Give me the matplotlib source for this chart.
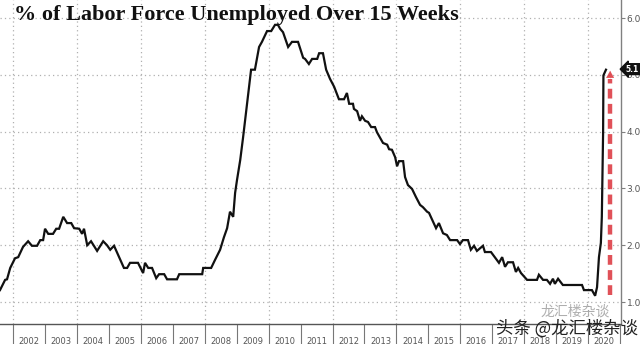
import matplotlib
matplotlib.use("Agg")
import matplotlib.pyplot as plt
from matplotlib.ticker import FixedLocator, NullFormatter, FixedFormatter

# --- data (decimal year, % of labor force unemployed > 15 weeks) ---
dates = [2001.59, 2001.75, 2001.81, 2001.91, 2002.06, 2002.16, 2002.31, 2002.47, 2002.59, 2002.75,
         2002.85, 2002.94, 2003.00, 2003.10, 2003.25, 2003.35, 2003.44, 2003.57, 2003.69, 2003.82,
         2003.91, 2004.07, 2004.16, 2004.22, 2004.32, 2004.44, 2004.63, 2004.82, 2004.94, 2005.04,
         2005.16, 2005.32, 2005.47, 2005.57, 2005.66, 2005.91, 2006.07, 2006.13, 2006.23, 2006.35,
         2006.48, 2006.57, 2006.73, 2006.82, 2007.13, 2007.20, 2007.92, 2007.95, 2008.20, 2008.32,
         2008.48, 2008.60, 2008.70, 2008.79, 2008.89, 2008.95, 2009.01, 2009.11, 2009.20, 2009.45,
         2009.57, 2009.70, 2009.79, 2009.95, 2010.08, 2010.20, 2010.29, 2010.36, 2010.45, 2010.61,
         2010.73, 2010.92, 2011.08, 2011.14, 2011.26, 2011.36, 2011.52, 2011.58, 2011.70, 2011.80,
         2011.92, 2012.05, 2012.20, 2012.36, 2012.45, 2012.52, 2012.64, 2012.67, 2012.77, 2012.86,
         2012.92, 2013.02, 2013.11, 2013.21, 2013.33, 2013.39, 2013.58, 2013.71, 2013.77, 2013.86,
         2013.96, 2014.02, 2014.08, 2014.21, 2014.27, 2014.36, 2014.49, 2014.61, 2014.74, 2014.83,
         2014.96, 2015.02, 2015.24, 2015.33, 2015.46, 2015.58, 2015.68, 2015.90, 2015.99, 2016.08,
         2016.24, 2016.33, 2016.43, 2016.52, 2016.71, 2016.77, 2016.96, 2017.09, 2017.21, 2017.31,
         2017.40, 2017.49, 2017.65, 2017.74, 2017.81, 2017.90, 2018.09, 2018.40, 2018.46, 2018.59,
         2018.71, 2018.81, 2018.90, 2018.96, 2019.06, 2019.21, 2019.81, 2019.87, 2020.12, 2020.22,
         2020.28, 2020.34, 2020.40, 2020.43, 2020.47, 2020.48, 2020.56]
values = [1.21, 1.39, 1.40, 1.60, 1.77, 1.79, 1.97, 2.07, 1.99, 1.99,
          2.09, 2.09, 2.29, 2.20, 2.20, 2.29, 2.29, 2.50, 2.39, 2.39,
          2.30, 2.29, 2.20, 2.29, 2.00, 2.07, 1.90, 2.07, 2.00, 1.92,
          1.99, 1.79, 1.60, 1.60, 1.69, 1.69, 1.51, 1.69, 1.60, 1.60,
          1.42, 1.49, 1.49, 1.40, 1.40, 1.49, 1.49, 1.60, 1.60, 1.74,
          1.92, 2.14, 2.30, 2.59, 2.50, 2.92, 3.15, 3.50, 3.90, 5.09,
          5.09, 5.49, 5.58, 5.77, 5.77, 5.88, 5.88, 5.81, 5.75, 5.49,
          5.58, 5.58, 5.30, 5.28, 5.19, 5.28, 5.28, 5.38, 5.38, 5.09,
          4.93, 4.79, 4.57, 4.57, 4.68, 4.49, 4.49, 4.40, 4.36, 4.19,
          4.27, 4.19, 4.17, 4.08, 4.08, 3.99, 3.80, 3.77, 3.69, 3.68,
          3.55, 3.39, 3.48, 3.48, 3.20, 3.06, 2.99, 2.85, 2.71, 2.67,
          2.59, 2.57, 2.30, 2.39, 2.21, 2.18, 2.09, 2.09, 2.02, 2.09,
          2.09, 1.92, 1.99, 1.90, 1.99, 1.88, 1.88, 1.78, 1.69, 1.79,
          1.62, 1.70, 1.70, 1.53, 1.60, 1.51, 1.39, 1.39, 1.48, 1.39,
          1.39, 1.32, 1.41, 1.32, 1.41, 1.30, 1.30, 1.21, 1.21, 1.11,
          1.26, 1.79, 2.04, 2.50, 3.98, 4.99, 5.09]

years = list(range(2002, 2021))
year_labels = [str(y) for y in years]
y_ticks = [1.0, 2.0, 3.0, 4.0, 5.0, 6.0]
y_tick_labels = ["1.0", "2.0", "3.0", "4.0", "5.0", "6.0"]
last_label = "5.1"
last_value = 5.1
arrow_x = 2020.69
arrow_from = 1.13
arrow_to = 5.12
title = "% of Labor Force Unemployed Over 15 Weeks"

fig = plt.figure(figsize=(6.4, 3.44), dpi=100)
ax = fig.add_axes([0.0, 0.0581, 0.9703, 0.9419])
ax.set_xlim(2001.59, 2021.03)
ax.set_ylim(0.613, 6.317)

grid_kw = dict(color="#b0b0b0", linestyle=(0, (1, 2.5)), linewidth=0.9, zorder=0)
for y in y_ticks:
    ax.axhline(y, **grid_kw)
for x in years[::2]:
    ax.axvline(x, **grid_kw)

ax.plot(dates, values, color="#111111", linewidth=1.6, zorder=3, solid_joinstyle="miter")

# red dashed arrow
ax.plot([arrow_x, arrow_x], [arrow_from, arrow_to - 0.2], color="#d9262e",
        linewidth=3.2, linestyle=(0, (2.2, 1.2)), zorder=4, alpha=0.8)
ax.annotate("", xy=(arrow_x, arrow_to), xytext=(arrow_x, arrow_to - 0.25),
            arrowprops=dict(arrowstyle="-|>,head_length=0.5,head_width=0.28",
                            color="#d9262e", lw=0.1, alpha=0.8), zorder=5)

# spines
for s in ["top", "left"]:
    ax.spines[s].set_visible(False)
ax.spines["right"].set_color("#808080")
ax.spines["right"].set_linewidth(1.0)
ax.spines["bottom"].set_color("#555555")
ax.spines["bottom"].set_linewidth(1.0)

# y axis on right
ax.yaxis.tick_right()
ax.set_yticks(y_ticks)
ax.set_yticklabels(y_tick_labels)
ax.tick_params(axis="y", direction="out", length=3, width=0.8, color="#808080",
               labelsize=6.5, labelcolor="#555555", pad=1)

# x axis: year boundaries as long ticks, labels centred
ax.xaxis.set_major_locator(FixedLocator(years + [2021]))
ax.xaxis.set_major_formatter(NullFormatter())
ax.xaxis.set_minor_locator(FixedLocator([y + 0.5 for y in years]))
ax.xaxis.set_minor_formatter(FixedFormatter(year_labels))
ax.tick_params(axis="x", which="major", direction="out", length=15, width=0.8, color="#777777")
ax.tick_params(axis="x", which="minor", length=0, labelsize=6, labelcolor="#555555", pad=9)

# last value label
ax.annotate(last_label, xy=(1.0, last_value), xycoords=("axes fraction", "data"),
            xytext=(3.5, 0), textcoords="offset points", ha="left", va="center",
            fontsize=5.5, color="white", fontweight="bold",
            bbox=dict(boxstyle="larrow,pad=0.12", fc="#111111", ec="#111111"),
            annotation_clip=False, zorder=10)

fig.text(0.022, 0.956, title, fontsize=16, fontweight="bold", family="Liberation Serif",
         color="#111111", ha="left", va="center")

# watermark
fig.text(0.845, 0.095, "龙汇楼杂谈", fontsize=10, color="#9a9a9a", alpha=0.8,
         family=["Noto Sans CJK SC", "DejaVu Sans"], ha="left", va="center")
fig.text(0.775, 0.045, "头条 @龙汇楼杂谈", fontsize=12.5, color="#222222",
         family=["Noto Sans CJK SC", "DejaVu Sans"], ha="left", va="center")

fig.savefig("out.png", dpi=100)
